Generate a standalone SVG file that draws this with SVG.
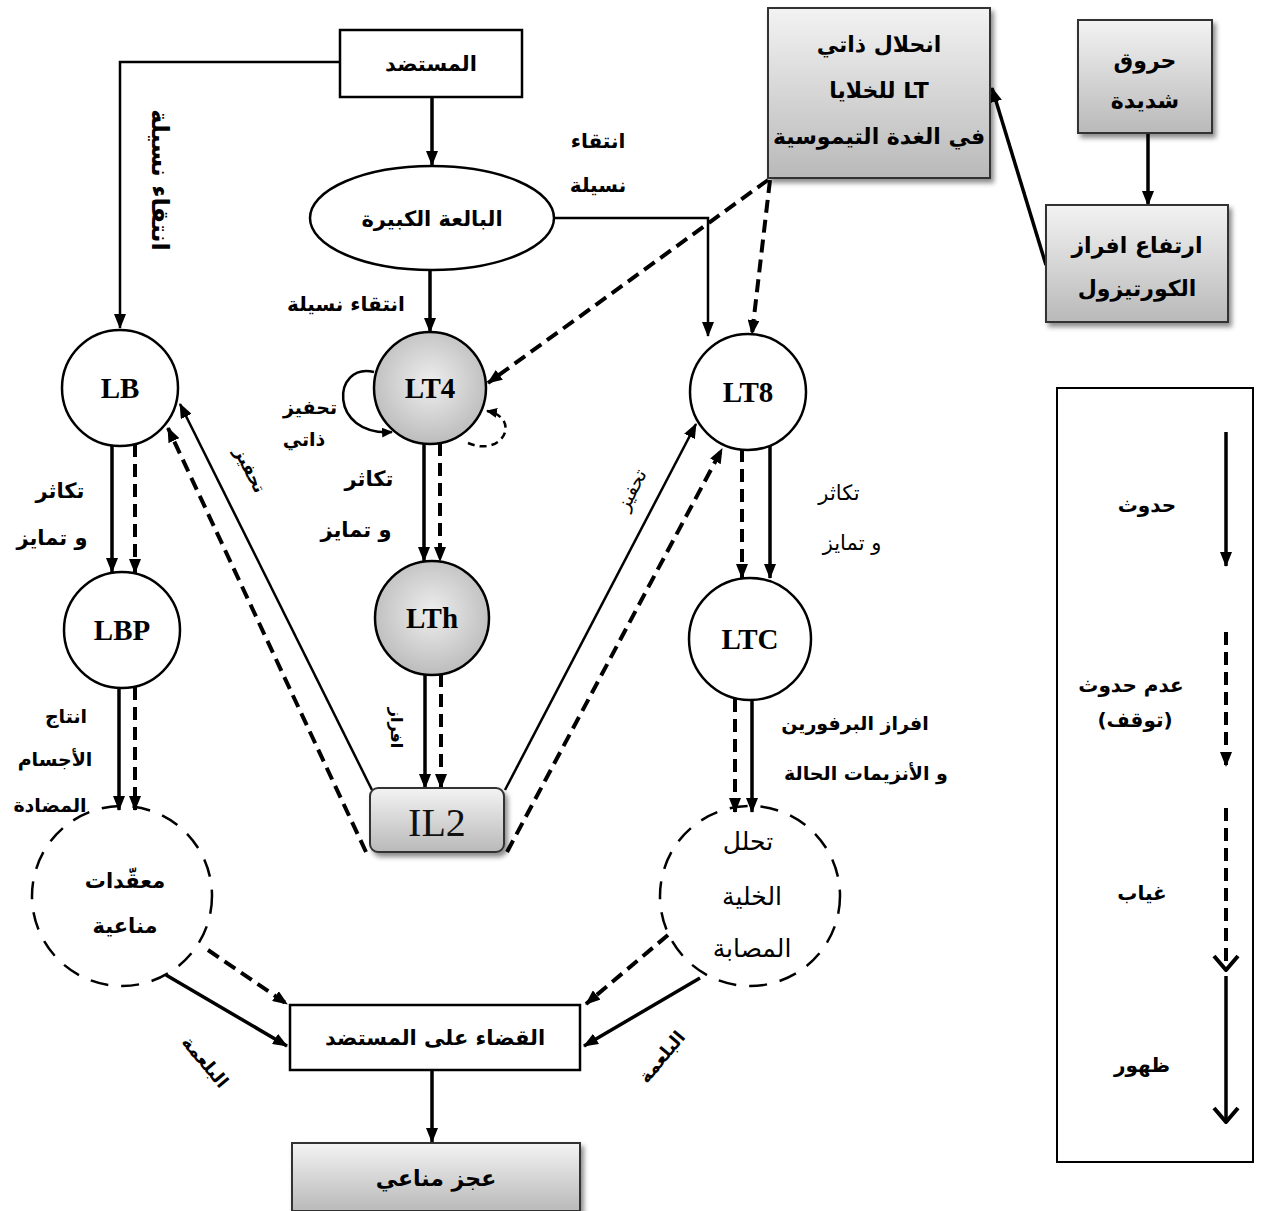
<svg xmlns="http://www.w3.org/2000/svg" width="1261" height="1211" viewBox="0 0 1261 1211">
<defs>
<style>
.ar{font-family:"DejaVu Sans","Liberation Sans",sans-serif;font-weight:bold;direction:rtl;text-anchor:middle;fill:#000}
.arn{font-family:"DejaVu Sans","Liberation Sans",sans-serif;font-weight:normal;direction:rtl;text-anchor:middle;fill:#000}
.lat{font-family:"Liberation Serif","Times New Roman",serif;font-weight:bold;text-anchor:middle;font-size:29px;fill:#000}
.box{fill:#fff;stroke:#000;stroke-width:2.5}
.gbox{fill:url(#gv);stroke:#333;stroke-width:2;filter:url(#sh)}
.circ{fill:#fff;stroke:#000;stroke-width:2.5}
.gcirc{fill:url(#gr);stroke:#000;stroke-width:2.5}
.dcirc{fill:none;stroke:#000;stroke-width:2.5;stroke-dasharray:18 13}
.s{fill:none;stroke:#000;stroke-width:3.5}
.t{fill:none;stroke:#000;stroke-width:2.5}
.d{fill:none;stroke:#000;stroke-width:4;stroke-dasharray:13 7}
</style>
<linearGradient id="gv" x1="0" y1="0" x2="0" y2="1">
<stop offset="0" stop-color="#f3f3f3"/>
<stop offset="1" stop-color="#b9b9b9"/>
</linearGradient>
<radialGradient id="gr" cx="0.5" cy="0.45" r="0.6">
<stop offset="0" stop-color="#eeeeee"/>
<stop offset="1" stop-color="#b8b8b8"/>
</radialGradient>
<filter id="sh" x="-10%" y="-10%" width="130%" height="130%">
<feDropShadow dx="3" dy="4" stdDeviation="2.5" flood-color="#000" flood-opacity="0.45"/>
</filter>
<marker id="ah" viewBox="0 0 15 12" refX="14" refY="6" markerWidth="15" markerHeight="12" markerUnits="userSpaceOnUse" orient="auto">
<path d="M0,0 L15,6 L0,12 z" fill="#000"/>
</marker>
<marker id="ahs" viewBox="0 0 11 10" refX="10" refY="5" markerWidth="11" markerHeight="10" markerUnits="userSpaceOnUse" orient="auto">
<path d="M0,0 L11,5 L0,10 z" fill="#000"/>
</marker>
<marker id="av" viewBox="0 0 18 28" refX="16" refY="14" markerWidth="18" markerHeight="28" markerUnits="userSpaceOnUse" orient="auto">
<path d="M2,2 L16,14 L2,26" fill="none" stroke="#000" stroke-width="4"/>
</marker>
</defs>
<rect width="1261" height="1211" fill="#fff"/>

<g id="connectors">
<polyline class="t" points="340,62 120,62 120,328" marker-end="url(#ah)"/>
<line class="s" x1="432" y1="97" x2="432" y2="165" marker-end="url(#ah)"/>
<line class="s" x1="430" y1="270" x2="430" y2="332" marker-end="url(#ah)"/>
<polyline class="t" points="554,218 708,218 708,336" marker-end="url(#ah)"/>
<line class="d" x1="768" y1="180" x2="488" y2="383" marker-end="url(#ah)"/>
<line class="d" x1="770" y1="180" x2="752" y2="334" marker-end="url(#ah)"/>
<line class="s" x1="1046" y1="265" x2="992" y2="88" marker-end="url(#ah)"/>
<line class="s" x1="1148" y1="133" x2="1148" y2="205" marker-end="url(#ah)"/>
<line class="s" x1="112" y1="445" x2="112" y2="572" marker-end="url(#ah)"/>
<line class="d" x1="135" y1="444" x2="135" y2="573" marker-end="url(#ah)"/>
<line class="s" x1="119" y1="688" x2="119" y2="810" marker-end="url(#ah)"/>
<line class="d" x1="135" y1="687" x2="135" y2="810" marker-end="url(#ah)"/>
<line class="s" x1="424" y1="444" x2="424" y2="561" marker-end="url(#ah)"/>
<line class="d" x1="440" y1="443" x2="440" y2="561" marker-end="url(#ah)"/>
<line class="s" x1="425" y1="675" x2="425" y2="788" marker-end="url(#ah)"/>
<line class="d" x1="441" y1="674" x2="441" y2="788" marker-end="url(#ah)"/>
<line class="d" x1="742" y1="449" x2="742" y2="578" marker-end="url(#ah)"/>
<line class="s" x1="770" y1="446" x2="770" y2="578" marker-end="url(#ah)"/>
<line class="d" x1="735" y1="699" x2="735" y2="812" marker-end="url(#ah)"/>
<line class="s" x1="752" y1="700" x2="752" y2="812" marker-end="url(#ah)"/>
<line class="t" x1="372" y1="790" x2="180" y2="404" marker-end="url(#ah)"/>
<line class="d" x1="366" y1="852" x2="168" y2="428" marker-end="url(#ah)"/>
<line class="t" x1="505" y1="790" x2="696" y2="424" marker-end="url(#ah)"/>
<line class="d" x1="507" y1="852" x2="722" y2="449" marker-end="url(#ah)"/>
<line class="d" x1="208" y1="950" x2="287" y2="1004" marker-end="url(#ah)"/>
<line class="s" x1="166" y1="975" x2="287" y2="1046" marker-end="url(#ah)"/>
<line class="d" x1="668" y1="935" x2="586" y2="1004" marker-end="url(#ah)"/>
<line class="s" x1="700" y1="978" x2="584" y2="1046" marker-end="url(#ah)"/>
<line class="s" x1="432" y1="1070" x2="432" y2="1142" marker-end="url(#ah)"/>
<path class="t" d="M374,372 C332,362 328,436 392,432" marker-end="url(#ahs)"/>
<path fill="none" stroke="#000" stroke-width="2.5" stroke-dasharray="7 5" d="M468,443 C503,458 522,418 487,411" marker-end="url(#ahs)"/>
</g>

<g id="n-antigen"><rect class="box" x="340" y="30" width="182" height="67"/><text class="ar" x="431" y="71" font-size="21">المستضد</text></g>
<g id="n-macrophage"><ellipse class="circ" cx="432" cy="218" rx="122" ry="52"/><text class="ar" x="432" y="226" font-size="21">البالعة الكبيرة</text></g>
<g id="n-thymus"><rect class="gbox" x="768" y="8" width="222" height="170"/>
<text class="ar" x="879" y="52" font-size="22">انحلال ذاتي</text>
<text class="ar" x="879" y="98" font-size="22" style="direction:ltr">للخلايا LT</text>
<text class="ar" x="879" y="144" font-size="22">في الغدة التيموسية</text></g>
<g id="n-burns"><rect class="gbox" x="1078" y="20" width="134" height="113"/>
<text class="ar" x="1145" y="68" font-size="22">حروق</text>
<text class="ar" x="1145" y="108" font-size="22">شديدة</text></g>
<g id="n-cortisol"><rect class="gbox" x="1046" y="205" width="182" height="117"/>
<text class="ar" x="1137" y="253" font-size="22">ارتفاع افراز</text>
<text class="ar" x="1137" y="296" font-size="22">الكورتيزول</text></g>
<g id="n-LB"><circle class="circ" cx="120" cy="388" r="58"/><text class="lat" x="120" y="398">LB</text></g>
<g id="n-LT4"><circle class="gcirc" cx="430" cy="388" r="56"/><text class="lat" x="430" y="398">LT4</text></g>
<g id="n-LT8"><circle class="circ" cx="748" cy="392" r="58"/><text class="lat" x="748" y="402">LT8</text></g>
<g id="n-LBP"><circle class="circ" cx="122" cy="630" r="58"/><text class="lat" x="122" y="640">LBP</text></g>
<g id="n-LTh"><circle class="gcirc" cx="432" cy="618" r="57"/><text class="lat" x="432" y="628">LTh</text></g>
<g id="n-LTC"><circle class="circ" cx="750" cy="639" r="61"/><text class="lat" x="750" y="649">LTC</text></g>
<g id="n-IL2"><rect x="370" y="788" width="134" height="64" rx="8" fill="url(#gv)" stroke="#333" stroke-width="2" filter="url(#sh)"/><text x="437" y="836" font-family="Liberation Serif, serif" font-size="40" text-anchor="middle" fill="#111">IL2</text></g>
<g id="n-complex"><circle class="dcirc" cx="122" cy="896" r="90"/>
<text class="ar" x="125" y="888" font-size="21">معقّدات</text>
<text class="ar" x="125" y="933" font-size="21">مناعية</text></g>
<g id="n-lysis"><circle class="dcirc" cx="750" cy="896" r="90"/>
<text class="arn" x="748" y="850" font-size="25">تحلل</text>
<text class="arn" x="752" y="905" font-size="25">الخلية</text>
<text class="arn" x="752" y="957" font-size="25">المصابة</text></g>
<g id="n-elimination"><rect class="box" x="290" y="1005" width="290" height="65"/><text class="ar" x="435" y="1045" font-size="21">القضاء على المستضد</text></g>
<g id="n-deficit"><rect class="gbox" x="292" y="1143" width="288" height="68"/><text class="ar" x="436" y="1186" font-size="22">عجز مناعي</text></g>

<g id="labels">
<text class="ar" font-size="24" transform="translate(160,180) rotate(90)" y="8">انتقاء نسيلة</text>
<text class="ar" x="346" y="311" font-size="20">انتقاء نسيلة</text>
<text class="ar" x="598" y="148" font-size="20">انتقاء</text>
<text class="ar" x="598" y="192" font-size="20">نسيلة</text>
<text class="ar" x="310" y="414" font-size="19">تحفيز</text>
<text class="ar" x="304" y="446" font-size="19">ذاتي</text>
<text class="ar" x="369" y="486" font-size="21">تكاثر</text>
<text class="ar" x="356" y="537" font-size="21">و تمايز</text>
<text class="ar" x="60" y="498" font-size="21">تكاثر</text>
<text class="ar" x="52" y="545" font-size="21">و تمايز</text>
<text class="arn" x="839" y="500" font-size="21">تكاثر</text>
<text class="arn" x="852" y="550" font-size="21">و تمايز</text>
<text class="ar" x="66" y="723" font-size="19">انتاج</text>
<text class="ar" x="55" y="766" font-size="19">الأجسام</text>
<text class="ar" x="50" y="812" font-size="19">المضادة</text>
<text class="ar" font-size="16" transform="translate(397,728) rotate(90)" y="6">افراز</text>
<text class="ar" font-size="17" transform="translate(250,470) rotate(63)" y="6">تحفيز</text>
<text class="arn" font-size="19" transform="translate(632,490) rotate(-63)" y="6">تحفيز</text>
<text class="ar" x="855" y="730" font-size="19">افراز البرفورين</text>
<text class="ar" x="866" y="780" font-size="19">و الأنزيمات الحالة</text>
<text class="ar" font-size="18" transform="translate(205,1062) rotate(50)" y="6">البلعمة</text>
<text class="ar" font-size="18" transform="translate(662,1057) rotate(-50)" y="6">البلعمة</text>
</g>

<g id="legend">
<rect x="1057" y="388" width="196" height="774" fill="#fff" stroke="#000" stroke-width="2"/>
<line class="s" x1="1226" y1="432" x2="1226" y2="566" stroke-width="4" marker-end="url(#ah)"/>
<line class="d" x1="1226" y1="632" x2="1226" y2="766" marker-end="url(#ah)"/>
<line class="d" x1="1226" y1="808" x2="1226" y2="970" marker-end="url(#av)"/>
<line class="s" x1="1226" y1="976" x2="1226" y2="1122" stroke-width="4" marker-end="url(#av)"/>
<text class="ar" x="1147" y="512" font-size="20">حدوث</text>
<text class="ar" x="1131" y="692" font-size="20">عدم حدوث</text>
<text class="ar" x="1135" y="727" font-size="20">(توقف)</text>
<text class="ar" x="1142" y="900" font-size="20">غياب</text>
<text class="ar" x="1142" y="1072" font-size="20">ظهور</text>
</g>
</svg>
